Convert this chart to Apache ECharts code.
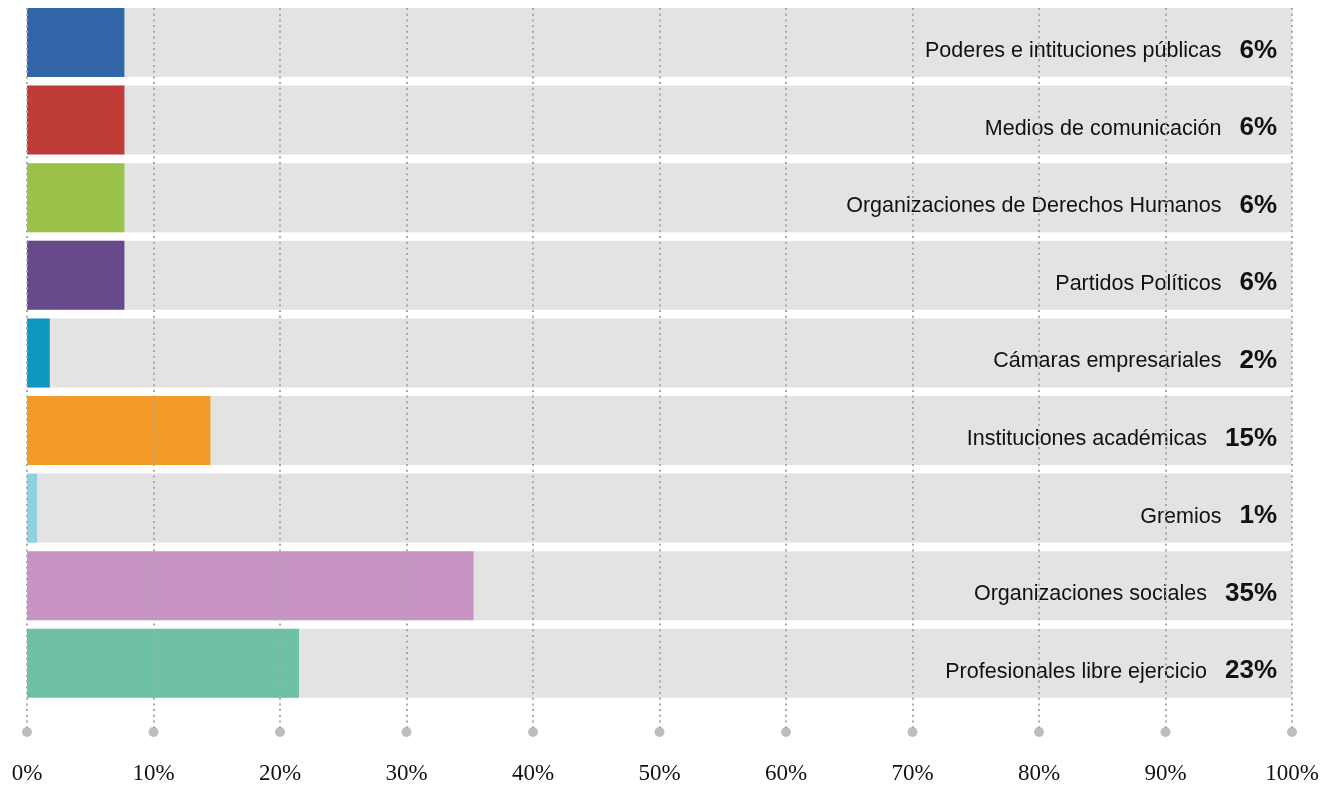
<!DOCTYPE html>
<html>
<head>
<meta charset="utf-8">
<script src="https://cdn.jsdelivr.net/npm/echarts@6/dist/echarts.min.js"></script>
<style>
    html, body { margin: 0; padding: 0; background: #fff; }
    #chart { width: 1335px; height: 785px; }
</style>
</head>
<body>
<div id="chart"></div>
<script>
// categorias (de arriba a abajo)
var categories = ['Poderes e intituciones públicas', 'Medios de comunicación', 'Organizaciones de Derechos Humanos',
    'Partidos Políticos', 'Cámaras empresariales', 'Instituciones académicas', 'Gremios',
    'Organizaciones sociales', 'Profesionales libre ejercicio'];
// largo de barra
var barValues = [7.7, 7.7, 7.7, 7.7, 1.8, 14.5, 0.8, 35.3, 21.5];
// porcentaje escrito
var pctLabels = ['6%', '6%', '6%', '6%', '2%', '15%', '1%', '35%', '23%'];
var barColors = ['#3366a8', '#bf3c38', '#9bc34c', '#664a8c', '#0f97bf', '#f39a28', '#8fd1e1', '#c894c4', '#6ec1a7'];
var ticks = [0, 10, 20, 30, 40, 50, 60, 70, 80, 90, 100];

var chart = echarts.init(document.getElementById('chart'));

var barData = barValues.map(function (v, i) {
    return {
        value: v,
        itemStyle: { color: barColors[i] },
        label: { formatter: '{n|' + categories[i] + '}{p|' + pctLabels[i] + '}' }
    };
});

var option = {
    animation: false,
    grid: [
        { left: 27, right: 43, top: 3.7, height: 698.4 },
        { left: 27, right: 43, top: 8, bottom: 53 }
    ],
    xAxis: [
        { gridIndex: 0, type: 'value', min: 0, max: 100, show: false },
        {
            gridIndex: 1, type: 'value', min: 0, max: 100, interval: 10, z: 5,
            axisLine: { show: false },
            axisTick: { show: false },
            axisLabel: {
                formatter: '{value}%', color: '#111', margin: 30,
                fontFamily: 'Liberation Serif', fontSize: 23
            },
            splitLine: { lineStyle: { color: '#a9a9a9', width: 2, type: [2, 3.7] } }
        }
    ],
    yAxis: [
        { gridIndex: 0, type: 'category', inverse: true, data: categories, show: false },
        { gridIndex: 1, type: 'value', min: 0, max: 1, show: false }
    ],
    series: [
        {
            type: 'bar',
            xAxisIndex: 0, yAxisIndex: 0,
            barWidth: 69,
            data: barData,
            showBackground: true,
            backgroundStyle: { color: '#e3e3e3' },
            label: {
                show: true,
                // relativo al inicio de la barra: borde derecho del fondo - 15
                position: [1250, 42.5],
                align: 'right',
                verticalAlign: 'middle',
                color: '#111',
                rich: {
                    n: { fontFamily: 'Liberation Sans', fontSize: 21.5, color: '#111',
                        verticalAlign: 'bottom', padding: [0, 0, 1.5, 0] },
                    p: { fontFamily: 'Liberation Sans', fontSize: 26, fontWeight: 'bold', color: '#111',
                        padding: [0, 0, 0, 18], verticalAlign: 'bottom' }
                }
            }
        },
        {
            type: 'scatter',
            xAxisIndex: 1, yAxisIndex: 1,
            symbolSize: 10,
            itemStyle: { color: '#acacac' },
            clip: false,
            z: 6,
            data: ticks.map(function (t) { return [t, 0]; })
        }
    ]
};

chart.setOption(option);
</script>
</body>
</html>
